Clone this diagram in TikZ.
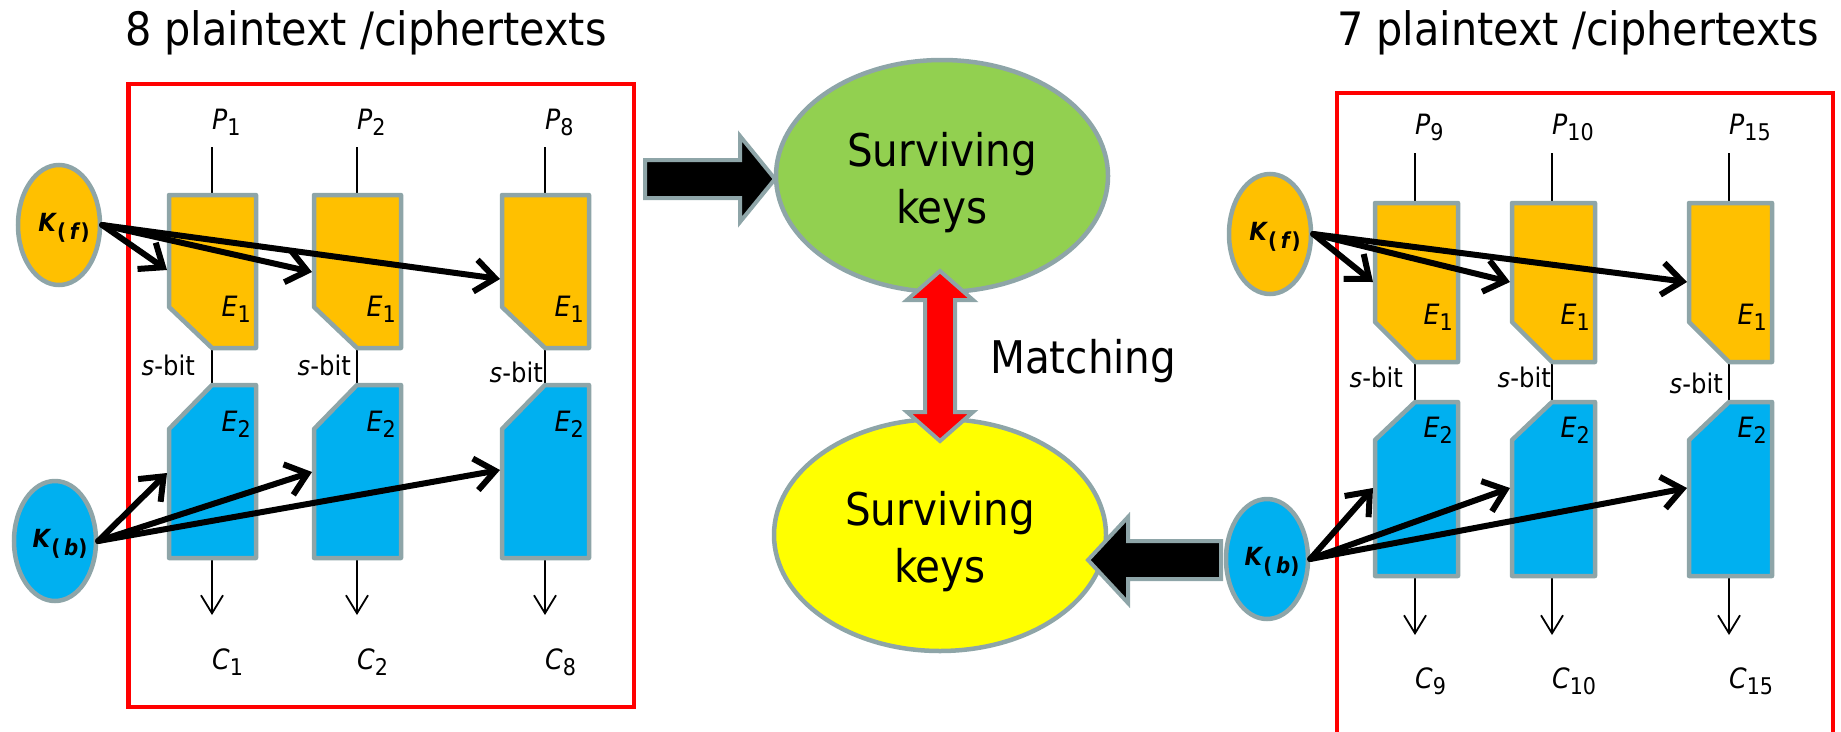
\documentclass[tikz,border=0pt]{standalone}
\usepackage{fontspec}
\setmainfont{DejaVu Sans Condensed}[
  ItalicFont={DejaVu Sans Condensed Oblique},
  BoldFont={DejaVu Sans Condensed Bold},
  BoldItalicFont={DejaVu Sans Condensed Bold Oblique}]
\usetikzlibrary{arrows.meta,shapes.geometric}

\definecolor{ora}{HTML}{FFC000}
\definecolor{sky}{HTML}{00B0F0}
\definecolor{grn}{HTML}{92D050}
\definecolor{yel}{HTML}{FFFF00}
\definecolor{edge}{HTML}{8EA5A8}

% italic symbol with an upright subscript
\newcommand\Sym[2]{\textit{#1}\raisebox{-6pt}{\fontsize{23}{23}\selectfont #2}}
% bold key symbol K_(x)
\newcommand\KeySym[1]{\textbf{\textit{K}}\raisebox{-8pt}{\fontsize{22}{22}\selectfont\bfseries(\,\textit{#1})}}

% one E1/E2 column: #1 id, #2 left x, #3 index, #4/#5 s-bit east x / baseline,
% #6 forward-key target y, #7 backward-key target y
\newcommand\EncCol[7]{%
  \coordinate (#1-ptop) at (#2+\nd,\yPt);
  \coordinate (#1-e1t)  at (#2+\nd,\yEt);
  \coordinate (#1-e1b)  at (#2+\nd,\yEb);
  \coordinate (#1-e2t)  at (#2+\nd,\yFt);
  \coordinate (#1-e2b)  at (#2+\nd,\yFb);
  \coordinate (#1-out)  at (#2+\nd,\yAe);
  \coordinate (#1-fin)  at (#2-2,#6);
  \coordinate (#1-bin)  at (#2-2,#7);
  \draw[wire] (#1-ptop) -- (#1-e1t);
  \draw[wire] (#1-e1b) -- (#1-e2t);
  \draw[outarrow] (#1-e2b) -- (#1-out);
  \draw[blockshape,fill=ora] (#2,\yEt) -- (#2+\bw,\yEt) -- (#2+\bw,\yEb)
      -- (#2+\nd,\yEb) -- (#2,\yEn) -- cycle;
  \draw[blockshape,fill=sky] (#2+\nd,\yFt) -- (#2+\bw,\yFt) -- (#2+\bw,\yFb)
      -- (#2,\yFb) -- (#2,\yFn) -- cycle;
  \node[lbl,anchor=base west] (#1-p)  at (#2+\nd,\yP) {\Sym{P}{#3}};
  \node[lbl,anchor=base west] (#1-c)  at (#2+\nd,\yC) {\Sym{C}{#3}};
  \node[lbl,anchor=base east] (#1-ea) at (#2+\bw-5,\yEl) {\Sym{E}{1}};
  \node[lbl,anchor=base east] (#1-eb) at (#2+\bw-5,\yFl) {\Sym{E}{2}};
  \node[sbit,anchor=base east] (#1-s) at (#4,#5) {\textit{s}-bit};
}

\begin{document}
\begin{tikzpicture}[x=1pt,y=-1pt,
  frame/.style={draw=red,line width=4.5pt},
  blockshape/.style={draw=edge,line width=4.5pt,line join=round},
  keyell/.style={ellipse,draw=edge,line width=4.5pt,inner sep=0pt,
    minimum width=82pt,minimum height=120pt},
  keytext/.style={xshift=5pt,yshift=-3pt,inner sep=0pt,
    font=\fontsize{25}{25}\selectfont},
  bigell/.style={ellipse,draw=edge,line width=4.5pt,inner sep=0pt,
    minimum width=332pt,minimum height=232pt},
  bigtext/.style={font=\fontsize{45}{57}\selectfont},
  wire/.style={line width=1.8pt},
  outarrow/.style={wire,-{Straight Barb[length=18pt,width=22pt]}},
  keyarrow/.style={line width=6pt,line cap=round,
    -{Straight Barb[length=20pt,width=32pt]}},
  lbl/.style={inner sep=0pt,font=\fontsize{28}{28}\selectfont},
  sbit/.style={inner sep=0pt,font=\fontsize{27}{27}\selectfont},
  blockarrow/.style={draw=edge,line width=4pt,line join=miter}]

\useasboundingbox (0,0) rectangle (1841,731);

% titles
\node[anchor=base west,inner sep=0pt,font=\fontsize{46}{46}\selectfont]
  (t1) at (125,45) {8 plaintext /ciphertexts};
\node[anchor=base west,inner sep=0pt,font=\fontsize{46}{46}\selectfont]
  (t2) at (1337,45) {7 plaintext /ciphertexts};

% frames around the two groups
\draw[frame] (128.5,84) rectangle (634,707);
\draw[frame] (1337,93) rectangle (1833,734);

% ---- left group: 8 pairs
\def\bw{87}\def\nd{43}
\def\yPt{147}\def\yEt{195}\def\yEn{307}\def\yEb{348}
\def\yFt{385}\def\yFn{429}\def\yFb{558}\def\yAe{615}
\def\yP{129}\def\yC{669}\def\yEl{316}\def\yFl{431}
\EncCol{L1}{169}{1}{195}{375}{270}{473}
\EncCol{L2}{314}{2}{351}{375}{272}{472}
\EncCol{L3}{502}{8}{543}{382}{279}{470}

% ---- right group: 7 pairs
\def\bw{83}\def\nd{40}
\def\yPt{153}\def\yEt{203}\def\yEn{322}\def\yEb{362}
\def\yFt{402}\def\yFn{440}\def\yFb{576}\def\yAe{635}
\def\yP{134}\def\yC{688}\def\yEl{324}\def\yFl{437}
\EncCol{R1}{1375}{9}{1403}{387}{282}{488}
\EncCol{R2}{1512}{10}{1551}{387}{282}{488}
\EncCol{R3}{1689}{15}{1723}{393}{282}{488}

% key ellipses
\node[keyell,fill=ora,label={[keytext]center:\KeySym{f}}] (kfl) at (59,225) {};
\node[keyell,fill=sky,label={[keytext]center:\KeySym{b}}] (kbl) at (55,541) {};
\node[keyell,fill=ora,label={[keytext]center:\KeySym{f}}] (kfr) at (1270,234) {};
\node[keyell,fill=sky,label={[keytext]center:\KeySym{b}}] (kbr) at (1267,559) {};

% key arrows into the encryption blocks
\foreach \c in {L1,L2,L3} {
  \draw[keyarrow] (kfl.east) -- (\c-fin);
  \draw[keyarrow] (kbl.east) -- (\c-bin);
}
\foreach \c in {R1,R2,R3} {
  \draw[keyarrow] (kfr.east) -- (\c-fin);
  \draw[keyarrow] (kbr.east) -- (\c-bin);
}

% surviving key sets
\node[bigell,fill=grn,
  label={[yshift=-7pt,align=center,bigtext]center:Surviving\\keys}]
  (sf) at (942,176) {};
\node[bigell,fill=yel,
  label={[yshift=-7pt,align=center,bigtext]center:Surviving\\keys}]
  (sb) at (940,535) {};

% block arrows
\draw[blockarrow,fill=black]
  (645,160) -- (740,160) -- (740,136) -- (775,179) -- (740,222)
  -- (740,198) -- (645,198) -- cycle;
\draw[blockarrow,fill=black]
  (1221,541) -- (1128,541) -- (1128,517) -- (1088,560) -- (1128,603)
  -- (1128,579) -- (1221,579) -- cycle;
\draw[blockarrow,fill=red]
  (940,271) -- (973,300) -- (955,300) -- (955,412) -- (973,412)
  -- (940,441) -- (907,412) -- (925,412) -- (925,300) -- (907,300) -- cycle;

\node[anchor=base west,inner sep=0pt,bigtext] (match) at (990,373) {Matching};

\end{tikzpicture}
\end{document}
